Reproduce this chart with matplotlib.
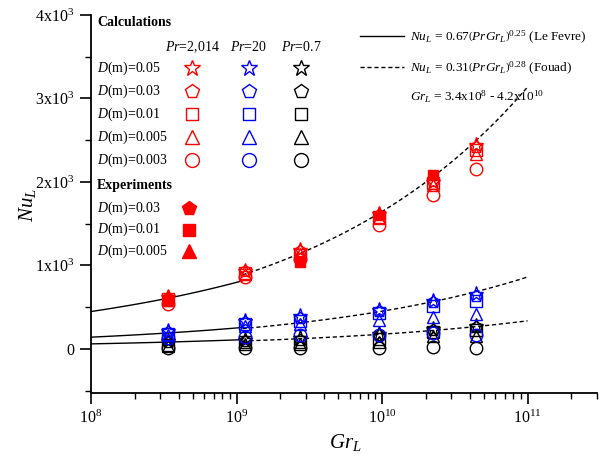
import numpy as np
import matplotlib
matplotlib.use("Agg")
import matplotlib.pyplot as plt
from matplotlib.lines import Line2D

plt.rcParams['font.family'] = ['Liberation Serif', 'DejaVu Serif']
plt.rcParams['mathtext.fontset'] = 'custom'
plt.rcParams['mathtext.rm'] = 'Liberation Serif'
plt.rcParams['mathtext.it'] = 'Liberation Serif:italic'
plt.rcParams['mathtext.bf'] = 'Liberation Serif:bold'

# ---------------- data ----------------
gr = [3.4e8, 1.15e9, 2.75e9, 9.5e9, 2.25e10, 4.4e10]

pr_values = [2014, 20, 0.7]
pr_labels = ['$Pr$=2,014', '$Pr$=20', '$Pr$=0.7']
pr_colors = ['#ff0000', '#0000ff', '#000000']
diam_labels = ['0.05', '0.03', '0.01', '0.005', '0.003']
diam_markers = ['*', 'p', 's', '^', 'o']

# Pr = 2014 (red): rows D = 0.05, 0.03, 0.01, 0.005, 0.003
nu_red_d005 = [620, 940, 1180, 1620, 2000, 2440]
nu_red_d003 = [610, 930, 1170, 1600, 2010, 2420]
nu_red_d001 = [600, 910, 1130, 1580, 1990, 2380]
nu_red_d0005 = [590, 900, 1140, 1570, 1960, 2330]
nu_red_d0003 = [540, 860, 1080, 1480, 1850, 2150]

# Pr = 20 (blue)
nu_blue_d005 = [210, 330, 400, 470, 570, 660]
nu_blue_d003 = [200, 320, 370, 450, 560, 640]
nu_blue_d001 = [180, 300, 340, 430, 520, 580]
nu_blue_d0005 = [170, 270, 300, 350, 380, 420]
nu_blue_d0003 = [130, 140, 170, 170, 190, 170]

# Pr = 0.7 (black)
nu_blk_d005 = [90, 110, 130, 180, 240, 280]
nu_blk_d003 = [80, 100, 110, 170, 230, 260]
nu_blk_d001 = [50, 80, 80, 120, 200, 230]
nu_blk_d0005 = [40, 60, 60, 80, 150, 160]
nu_blk_d0003 = [10, 10, 10, 10, 20, 10]

# experiments (Pr = 2014)
exp_gr_d003 = [3.4e8, 9.5e9]
exp_nu_d003 = [610, 1610]
exp_gr_d001 = [3.4e8, 2.75e9, 2.25e10]
exp_nu_d001 = [580, 1040, 2080]
exp_gr_d0005 = [3.4e8, 9.5e9]
exp_nu_d0005 = [630, 1630]
exp_labels = ['0.03', '0.01', '0.005']
exp_markers = ['p', 's', '^']

# axis ticks
y_ticks = [0, 1000, 2000, 3000, 4000]
y_tick_labels = ['0', '1x10$^3$', '2x10$^3$', '3x10$^3$', '4x10$^3$']
x_ticks = [1e8, 1e9, 1e10, 1e11]
x_tick_labels = ['10$^8$', '10$^9$', '10$^{10}$', '10$^{11}$']

# correlations
lefevre_c, lefevre_n = 0.67, 0.25
fouad_c, fouad_n = 0.31, 0.28
gr_switch = 1.1e9

calc = {
    2014: [nu_red_d005, nu_red_d003, nu_red_d001, nu_red_d0005, nu_red_d0003],
    20: [nu_blue_d005, nu_blue_d003, nu_blue_d001, nu_blue_d0005, nu_blue_d0003],
    0.7: [nu_blk_d005, nu_blk_d003, nu_blk_d001, nu_blk_d0005, nu_blk_d0003],
}

# ---------------- figure ----------------
W, H = 608, 461
fig = plt.figure(figsize=(W / 100, H / 100), dpi=100)
ax_l, ax_r, ax_t, ax_b = 91, 597, 15, 393
ax = fig.add_axes([ax_l / W, (H - ax_b) / H, (ax_r - ax_l) / W, (ax_b - ax_t) / H])

ax.set_xscale('log')
ax.set_xlim(1e8, 3.0e11)
ax.set_ylim(-527, 4000)

# correlation curves
g1 = np.logspace(8, np.log10(gr_switch), 100)
g2 = np.logspace(np.log10(gr_switch), 11, 200)
for pr in pr_values:
    ax.plot(g1, lefevre_c * (pr * g1) ** lefevre_n, color='black', lw=1.0, zorder=1)
    ax.plot(g2, fouad_c * (pr * g2) ** fouad_n, color='black', lw=1.0,
            ls=(0, (3, 2)), zorder=1)

ms = {'*': 11, 'p': 9, 's': 8, '^': 9, 'o': 9}
for pr, col in zip([0.7, 20, 2014], ['#000000', '#0000ff', '#ff0000']):
    for vals, mk in zip(calc[pr], diam_markers):
        ax.plot(gr, vals, ls='none', marker=mk, ms=ms[mk], mfc='none',
                mec=col, mew=1.0, zorder=3)

for g, v, mk in zip([exp_gr_d003, exp_gr_d001, exp_gr_d0005],
                    [exp_nu_d003, exp_nu_d001, exp_nu_d0005], exp_markers):
    ax.plot(g, v, ls='none', marker=mk, ms=ms[mk] - 1, mfc='#ff0000',
            mec='#ff0000', zorder=4)

# spines & ticks
for s in ['top', 'right']:
    ax.spines[s].set_visible(False)
for s in ['left', 'bottom']:
    ax.spines[s].set_linewidth(1.3)
ax.set_yticks(y_ticks)
ax.set_yticklabels(y_tick_labels)
ax.set_yticks([-500, 500, 1500, 2500, 3500], minor=True)
ax.set_xticks(x_ticks)
ax.set_xticklabels(x_tick_labels)
ax.tick_params(axis='both', which='major', direction='out', length=8, width=1.2,
               labelsize=11.5)
ax.tick_params(axis='both', which='minor', direction='out', length=4, width=1.0)
ax.tick_params(axis='x', which='major', pad=4)
ax.tick_params(axis='y', which='major', pad=4)

ax.set_xlabel('$Gr_L$', fontsize=15)
ax.set_ylabel('$Nu_L$', fontsize=15)
ax.xaxis.set_label_coords((345 - ax_l) / (ax_r - ax_l), (ax_b - 442) / (ax_b - ax_t))
ax.yaxis.set_label_coords((28 - ax_l) / (ax_r - ax_l), (ax_b - 205) / (ax_b - ax_t))
ax.xaxis.label.set_va('center')
ax.yaxis.label.set_va('center')


# ---------------- legend (hand drawn) ----------------
def fx(px):
    return px / W


def fy(py):
    return 1 - py / H


fs = 10
fig.text(fx(97), fy(23), 'Calculations', fontsize=fs, fontweight='bold', va='center')
hdr_x = [192, 249, 301]
for x, lab in zip(hdr_x, pr_labels):
    fig.text(fx(x), fy(47), lab, fontsize=fs, ha='center', va='center')
row_y = [68.5, 91, 114, 137, 160]
lms = {'*': 12, 'p': 10, 's': 9, '^': 10, 'o': 10}
for y, lab, mk in zip(row_y, diam_labels, diam_markers):
    fig.text(fx(97), fy(y), '$D$(m)=' + lab, fontsize=fs, va='center')
    for x, col in zip(hdr_x, pr_colors):
        fig.add_artist(Line2D([fx(x)], [fy(y)], transform=fig.transFigure,
                              marker=mk, ms=lms[mk], mfc='none', mec=col, mew=1.0, ls='none'))
fig.text(fx(97), fy(185), 'Experiments', fontsize=fs, fontweight='bold', va='center')
exp_y = [208, 229.5, 251]
for y, lab, mk in zip(exp_y, exp_labels, exp_markers):
    fig.text(fx(97), fy(y), '$D$(m)=' + lab, fontsize=fs, va='center')
    fig.add_artist(Line2D([fx(189)], [fy(y)], transform=fig.transFigure,
                          marker=mk, ms=lms[mk], mfc='#ff0000', mec='#ff0000', ls='none'))

# correlation legend
fs2 = 9.5
fig.add_artist(Line2D([fx(360), fx(404)], [fy(36), fy(36)], transform=fig.transFigure,
                      color='black', lw=1.0))
fig.text(fx(410), fy(37), r'$Nu_L$ = 0.67$\left(PrGr_L\right)^{0.25}$ (Le Fevre)',
         fontsize=fs2, va='center')
fig.add_artist(Line2D([fx(360), fx(404)], [fy(67), fy(67)], transform=fig.transFigure,
                      color='black', lw=1.0, ls=(0, (3, 2))))
fig.text(fx(410), fy(68), r'$Nu_L$ = 0.31$\left(PrGr_L\right)^{0.28}$ (Fouad)',
         fontsize=fs2, va='center')
fig.text(fx(410), fy(97), r'$Gr_L$ = 3.4x10$^8$ - 4.2x10$^{10}$', fontsize=fs2, va='center')

fig.savefig('out.png', dpi=100)
